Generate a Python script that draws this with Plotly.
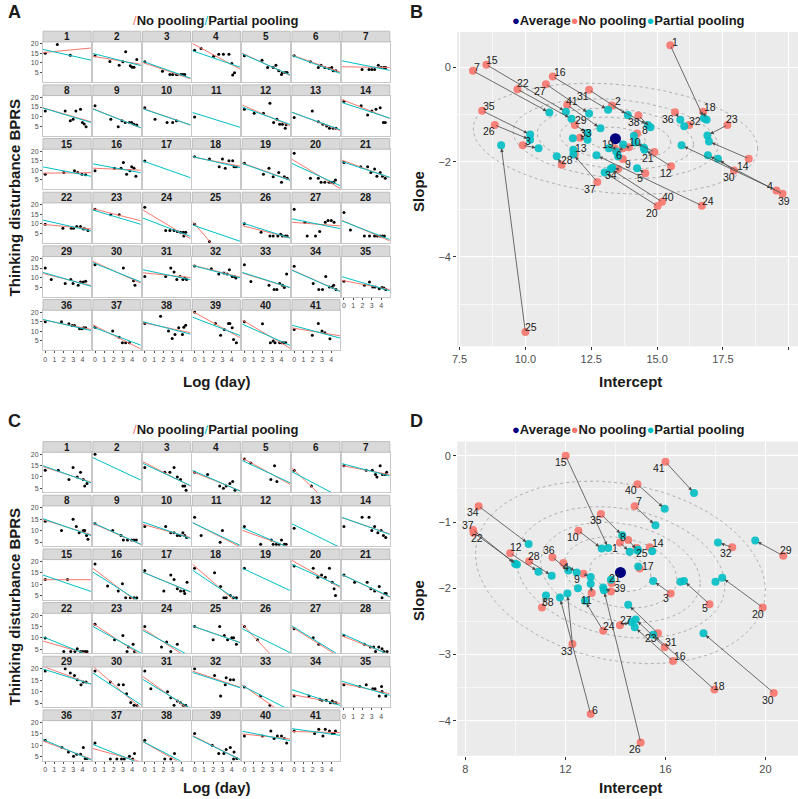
import numpy as np
import plotly.graph_objects as go

# ======================= DATA =======================
# Panel A: observed points per patient (log day, BPRS thinking disturbance)
A_points = [
    [(0,15),(1.3,19.6),(2.7,14)],
    [(0,13.7),(1.6,10.7),(2.6,8.8),(3.0,10.6),(3.3,15.8),(3.8,8.5),(4.0,7.8),(4.2,7.8),(4.5,11.8)],
    [(0,10.6),(1.9,5.7),(2.7,4),(3.0,4),(3.4,4),(3.5,4),(3.9,4),(4.1,4),(4.3,4)],
    [(0,16.6),(0.7,17.5),(2.05,13.5),(2.6,14.5),(3.1,14.5),(3.7,14.5),(4.0,9.7),(4.1,3.7),(4.3,4.9)],
    [(0,13.7),(1.9,11.4),(2.5,7.6),(3.1,7.6),(3.4,8.8),(3.7,6),(4.0,4),(4.1,5),(4.4,5),(4.6,5)],
    [(0,13.7),(1.75,10.6),(2.6,7.6),(2.9,8.8),(3.3,7.6),(3.75,7.1),(4.05,7.6),(4.2,6),(4.5,6)],
    [(1.95,6.6),(2.7,6.6),(3.0,6.6),(3.3,6.6),(3.7,8.8),(4.0,7.6),(4.3,7.6),(4.5,7.6)],
    [(0,12.9),(2.15,12.9),(2.7,7.9),(3.0,8.7),(3.3,12.9),(3.8,13.8),(4.0,7),(4.2,6.2),(4.4,4.8)],
    [(0,15.7),(1.7,8.7),(2.5,4.8),(2.9,7.9),(3.25,7),(3.7,7),(3.95,7),(4.2,6),(4.5,5.6)],
    [(0,14.6),(1.1,8.7),(2.4,7),(3.0,7),(3.4,7.9)],
    [(0,9.8)],
    [(0,13.8),(1.05,11.7),(2.05,11.7),(2.75,16.9),(3.15,7),(3.5,8.7),(3.8,6),(4.1,6),(4.4,4),(4.5,5.8)],
    [(0,9.6),(1.95,12.9),(2.6,7.3),(3.1,6),(3.5,5.1),(3.8,4),(4.2,4),(4.5,4)],
    [(0,18),(1.85,15.6),(2.55,10.8),(3.0,12.9),(3.45,13.8),(3.9,14.6),(4.25,7),(4.45,7)],
    [(0,7.9),(2.0,8.9),(3.15,9.8),(3.5,8.9),(3.95,7.9),(4.35,7.7)],
    [(0,9.8),(2.1,11),(2.8,11),(3.05,14),(3.4,7.9),(3.75,9.8),(3.95,11.9),(4.2,11),(4.4,6.9)],
    [(0,14.8)],
    [(0,17.1),(1.6,15.9),(2.65,11.9),(3.0,15.9),(3.3,11),(3.7,14.9),(4.1,14.9),(4.25,11.9),(4.5,11.9)],
    [(0,13.6),(2.05,7.9),(2.65,11),(3.1,6.7),(3.7,8.9),(4.0,3.8),(4.3,6.7),(4.6,5.8)],
    [(0,18.8),(1.75,5.8),(2.6,5.8),(2.9,3.8),(3.3,3.8),(3.75,3.8),(4.0,3.8),(4.25,3.8),(4.45,5)],
    [(0,14),(1.8,11.9),(2.55,11.9),(2.9,8.9),(3.3,10.7),(3.55,6.9),(3.9,8.9),(4.15,6.9),(4.45,5.8)],
    [(0,9.9),(1.9,7.8),(2.8,7.8),(3.05,7.8),(3.4,8.7),(3.8,8.7),(4.1,7.4),(4.25,7.5),(4.6,6.6)],
    [(0,17.7),(1.7,14.8),(2.6,14.8)],
    [(0,18.7),(2.25,6.6),(2.7,6.6),(3.15,6.6),(3.5,6.1),(3.85,5.7),(4.15,5.7),(4.2,3.8),(4.4,5.7)],
    [(0,9.9),(1.6,0.9)],
    [(0,10.1),(1.8,5.7),(2.75,3.8),(3.1,3.8),(3.6,3.8),(3.9,4.7),(4.1,3.8),(4.4,3.8),(4.6,3.8)],
    [(0,17.7),(1.15,10.9),(1.4,3.8),(2.3,3.8),(2.75,6.1),(3.35,10.9),(3.65,11.8),(4.0,11.8),(4.3,10.9)],
    [(0,15.9),(0.7,6.9),(2.2,3.8),(2.75,3.8),(3.3,3.8),(3.6,3.8),(3.9,3.8),(4.15,3.8),(4.35,3.8)],
    [(0,15),(0.65,9),(2.15,6.9),(2.75,9),(3.0,6.9),(3.55,6),(3.8,7.7),(4.1,7.7),(4.35,8.1)],
    [(0,16.7),(3.05,15),(4.15,8.4),(4.3,6)],
    [(0,10.6),(2.25,10.6),(2.8,15),(3.15,12.9),(3.45,9),(3.8,10.6),(4.1,9),(4.3,9.8),(4.5,9)],
    [(0,16),(1.8,14.6),(2.6,11.9),(3.15,12.4),(3.5,11.9),(3.75,14.1),(4.05,10.6),(4.3,10.6),(4.45,9.8)],
    [(0,16.7),(0.7,8),(2.65,6),(3.2,3.8),(3.5,3.8),(3.8,6.9),(4.1,6),(4.3,4.9),(4.55,11.9)],
    [(0,15.9),(2.05,6.9),(2.65,3.8),(3.05,3.8),(3.4,10.6),(3.8,5.1),(4.1,5.1),(4.25,6),(4.5,3.8)],
    [(0,8.1),(2.2,6),(2.75,7.7),(3.1,5.1),(3.35,5.1),(3.8,4.2),(4.1,4.9),(4.3,4.6),(4.5,3.8)],
    [(0,14.9),(1.75,14.9),(2.55,13.9),(2.9,13),(3.15,13),(3.7,11.3),(3.95,11.3),(4.15,11.8),(4.35,11.8)],
    [(0,12.1),(1.9,10.1),(2.6,6.9),(2.95,4),(3.3,4),(3.7,4)],
    [(0,14),(1.7,17.8),(2.55,10.1),(2.95,6.2),(3.25,8.3),(3.65,11.8),(4.05,8.3),(4.2,12.1),(4.4,13.2)],
    [(0,20),(2.25,14),(2.8,8),(3.2,10.9),(3.65,14),(3.8,14),(4.05,11.8),(4.2,5.7),(4.5,4)],
    [(0,14.9),(1.95,13.9),(2.8,4),(3.1,4.9),(3.3,4),(3.8,4),(4.05,4),(4.25,4),(4.45,4)],
    [(0,10.9),(1.95,8),(2.6,14),(3.0,10.1),(3.3,9.2),(3.85,6.1)],
]
# Panel A/B: per-patient intercept & slope (no pooling / partial pooling)
A_nopool_int = [15.50,13.29,9.90,19.53,14.55,13.70,8.01,14.24,13.70,13.93,None,15.53,11.88,18.48,8.52,11.04,None,16.75,13.39,15.02,14.90,9.70,17.67,16.70,10.00,8.84,10.78,11.38,11.88,17.92,12.42,16.22,12.07,13.52,8.36,15.68,12.73,14.29,19.76,15.19,11.59]
A_nopool_slope = [0.46,-0.81,-1.65,-2.60,-2.24,-1.71,-0.08,-1.40,-1.94,-1.69,None,-2.09,-1.84,-1.93,0.05,-0.20,None,-0.94,-1.71,-2.93,-1.79,-0.47,-1.22,-2.92,-5.58,-1.22,-0.36,-2.06,-1.22,-2.18,-0.48,-1.22,-1.49,-2.15,-0.92,-0.95,-2.42,-1.02,-2.67,-2.84,-0.80]
A_partial_int = [16.78,14.65,10.50,15.93,14.24,13.45,10.91,14.12,13.52,13.71,11.80,14.52,11.82,16.97,11.54,13.14,14.50,16.88,13.17,13.01,14.17,11.75,16.91,12.70,9.08,10.18,12.42,11.19,12.36,17.31,13.89,16.03,12.36,13.30,10.18,15.88,11.82,14.75,16.93,13.24,12.85]
A_partial_slope = [-1.08,-1.22,-1.71,-1.65,-2.13,-1.78,-0.96,-1.45,-1.88,-1.63,-1.50,-1.74,-1.74,-1.57,-0.94,-0.90,-1.70,-1.11,-1.71,-2.22,-1.59,-1.09,-1.44,-1.86,-1.65,-1.53,-0.98,-1.88,-1.39,-1.93,-1.01,-1.25,-1.53,-2.12,-1.42,-1.11,-1.84,-1.27,-1.86,-2.15,-1.29]
A_average = [13.42, -1.51]
A_ellipse = dict(a=5.4, b=1.15, shear=-0.21)

# Panel C: observed points per patient
C_points = [
    [(0,12.9),(1.4,12.9),(2.55,8.9),(3.0,14.1),(3.45,10),(3.8,12.1),(4.1,8.9),(4.25,6),(4.5,7.1)],
    [(0,19.9)],
    [(0,14.1),(2.15,12.1),(2.7,12.1),(3.15,14.1),(3.5,10),(3.85,8.9),(4.1,6),(4.3,6),(4.45,4.2)],
    [(0,12.1),(1.4,11.1),(2.7,6),(3.1,5.1),(3.4,6),(3.8,7.1),(4.1,8),(4.35,4.2)],
    [(0,17.9),(0.7,16.1),(2.85,8.9),(3.25,14.9),(3.5,8)],
    [(0,12.9),(1.85,6)],
    [(0,14.9),(2.4,12.9),(3.05,12.9),(3.4,11.1),(3.55,10),(3.9,14.9),(4.15,11.1),(4.45,11.1),(4.6,12.1)],
    [(0,14.1),(1.75,10),(3.0,15),(3.35,11.8),(3.65,9.1),(4.1,10),(4.25,10),(4.45,7.9),(4.6,6.2)],
    [(0,13),(1.9,10),(2.8,7.9),(3.05,5.9),(3.5,5.9),(3.95,5.9),(4.2,5.9),(4.45,5.9)],
    [(0,11.8),(2.25,11.8),(2.8,9.1),(3.15,9.1),(3.5,7.9),(3.8,7.9),(4.1,9.1),(4.3,7.9),(4.5,7)],
    [(0,15.9),(0.7,7.9),(2.75,4.9),(3.0,10)],
    [(0,11.8),(1.75,4),(2.9,5.9),(3.1,4),(3.45,4),(3.75,4),(4.0,5.9),(4.3,4),(4.5,4)],
    [(0,11)],
    [(0,11.8),(1.95,15.9),(2.7,15.9),(3.0,10),(3.3,11.8),(3.65,9.1),(4.0,10),(4.25,7.9),(4.5,7)],
    [(0,12.1),(2.4,12.1)],
    [(0,18.9),(1.35,9.2),(2.5,7),(2.95,10.2),(3.3,4.1),(3.8,4.1),(4.2,4.1),(4.5,4.1)],
    [(0,16),(2.05,7),(2.8,14.1),(3.15,12.1),(3.5,8),(3.85,7),(4.2,7),(4.3,6),(4.55,10.9)],
    [(0,17),(2.15,15),(2.8,9),(3.15,4.1),(3.4,4.1),(3.85,5.1),(4.2,4.1),(4.5,4.1)],
    [(0,17)],
    [(0,18),(2.05,17),(2.55,13.1),(2.95,14.1),(3.35,13.1),(3.8,17),(4.1,10.9),(4.3,8),(4.45,5.1)],
    [(0,14.1),(1.15,10.9),(2.5,10.9),(2.9,8),(3.3,7),(3.8,9),(4.1,4.1),(4.4,6),(4.55,6)],
    [(0,10),(2.0,4.1),(2.75,4.1),(3.2,4.1),(3.45,5.3),(3.8,4.1),(4.05,4.1),(4.3,4.1),(4.5,4.1)],
    [(0,16),(2.1,9.2),(3.0,11.1),(3.45,4.1),(3.6,6),(4.1,7.2),(4.25,4.1)],
    [(0,15),(1.8,6),(2.35,8.2),(2.8,4.1),(3.5,7.2)],
    [(0,15),(2.0,9.2),(2.7,15),(3.2,11.1),(3.55,9.2),(4.0,10.1),(4.2,10.1),(4.5,7.2)],
    [(0,15),(1.4,9.2)],
    [(0,14),(2.05,10.1),(2.65,7.2)],
    [(0,11.1),(2.2,7.2),(2.85,6),(3.2,6),(3.4,4.1),(3.75,6),(4.1,5.3),(4.3,4.1),(4.65,4.1)],
    [(0,19),(2.15,20),(2.7,18.1),(3.15,17.1),(3.45,15.2),(3.85,13),(4.1,14.2),(4.4,14.2)],
    [(0,19),(1.65,14.2),(2.55,13),(3.05,13),(3.4,9.1),(3.85,5.2),(4.2,4),(4.5,4)],
    [(0,19),(0.65,11.3),(2.45,9.9),(2.8,7.3),(3.15,4),(3.5,5.9),(3.85,5.1),(4.15,4),(4.4,4)],
    [(0,20),(2.15,17.1),(2.8,8.1),(3.3,13),(3.4,16.1),(3.85,15.2),(4.2,15.2)],
    [(0,12),(1.75,8.1),(2.75,4)],
    [(0,8.1),(1.6,8.1),(2.75,6.7),(3.0,6.2),(3.45,6.2),(3.9,5.1),(4.1,5.9),(4.3,5.1),(4.5,5.1)],
    [(0,13),(1.7,12.2),(2.4,13),(3.1,11.3),(3.35,11.3),(3.8,8.1),(4.05,12.2),(4.1,10),(4.5,8.1)],
    [(0,12.2),(1.8,9),(2.5,7.1),(3.05,5.2),(3.4,6.1),(3.8,6.1),(4.1,9),(4.3,4.2),(4.5,4.2)],
    [(0,11),(1.65,4),(2.35,4),(2.85,4),(3.15,4),(3.7,5.2),(4.05,4),(4.25,6.4)],
    [(0,12.2),(2.15,4),(2.8,4),(3.2,6.4)],
    [(0,15.1),(1.9,10),(2.6,6.4),(3.15,6.4),(3.4,8.1),(3.85,9),(4.2,4),(4.25,7.1),(4.55,4.2)],
    [(0,14.1),(1.95,14.1),(2.85,16.3),(3.2,13),(3.55,14.1),(4.0,14.1),(4.3,13),(4.55,11)],
    [(0,16.3),(2.2,15.1),(2.65,17),(3.1,14.1),(3.35,17),(3.8,16.3),(4.1,15.1),(4.3,15.1),(4.45,16.3)],
]
C_nopool_int = [14.18,None,16.21,11.92,17.76,13.01,14.77,14.51,12.72,12.52,13.05,9.79,None,15.37,12.01,16.30,14.97,17.96,None,19.89,13.84,8.33,15.70,13.51,14.85,15.01,14.18,10.55,20.71,20.33,15.97,18.67,12.28,8.53,13.42,11.48,8.31,11.06,13.82,14.88,16.00]
C_nopool_slope = [-1.31,None,-2.08,-1.62,-2.24,-3.90,-0.76,-1.27,-1.78,-1.13,-2.07,-1.47,None,-1.38,0.00,-3.10,-1.70,-3.53,None,-2.29,-1.92,-1.16,-2.68,-2.64,-1.39,-4.33,-2.56,-1.59,-1.51,-3.58,-2.89,-1.38,-2.84,-0.76,-0.88,-1.53,-1.12,-2.29,-2.05,-0.43,-0.09]
C_partial_int = [14.57,18.00,15.51,12.45,16.74,11.78,15.60,14.88,13.01,13.45,13.01,10.92,12.50,15.47,13.71,14.77,14.91,15.51,16.60,18.27,13.82,10.06,14.51,12.78,14.90,13.54,14.64,11.45,19.59,17.52,14.81,18.10,12.08,10.53,14.27,12.12,9.99,11.22,13.51,15.97,17.14]
C_partial_slope = [-1.45,-1.90,-1.89,-1.76,-1.89,-2.14,-1.05,-1.43,-1.83,-1.40,-1.93,-1.75,-2.00,-1.44,-1.39,-2.59,-1.67,-2.70,-1.90,-1.84,-1.87,-1.64,-2.25,-2.19,-1.42,-2.03,-2.51,-1.81,-1.28,-2.68,-2.47,-1.31,-2.08,-1.33,-1.20,-1.73,-1.63,-2.11,-1.99,-0.80,-0.56]
C_average = [14.20, -1.76]
C_ellipse = dict(a=5.8, b=1.35, shear=-0.28)

ellipse_levels = [0.21, 0.39, 0.55, 0.72, 1.0]

# ======================= STYLE =======================
W, H = 798, 799
FONT = 'Liberation Sans, Arial, sans-serif'
RED, CYAN, NAVY = '#F8766D', '#00BFC4', '#000080'
TICKC = '#4D4D4D'
PANEL_LINE = '#C8C8C8'
XR = [-0.235, 4.935]

# label offsets (px right, px down) for ggrepel-like labels
B_lab = {1:(5,-3),2:(6,-4),3:(5,-4),4:(-6,-4),5:(-5,5),6:(-4,7),7:(4,-4),8:(8,-3),9:(5,5),10:(6,-5),
         12:(-5,7),13:(6,-6),14:(-6,7),15:(6,-5),16:(7,-5),18:(7,-5),19:(-7,-4),20:(-6,7),21:(-6,6),
         22:(6,-6),23:(5,-6),24:(6,-5),25:(6,-5),26:(-6,6),27:(-6,7),28:(5,-5),29:(6,-5),30:(-5,6),
         31:(-6,6),32:(6,-4),33:(6,-5),34:(-7,6),35:(7,-5),36:(-7,7),37:(-7,7),38:(-4,7),39:(2,7),
         40:(6,-5),41:(5,-4)}
D_lab = {1:(-5,5),3:(-5,4),4:(3,4),5:(-4,4),6:(4,-4),7:(4,-5),8:(-5,-3),9:(-6,5),10:(-5,6),11:(-5,7),
         12:(6,-6),14:(8,-4),15:(-5,6),16:(7,-5),17:(8,-2),18:(5,-4),20:(-5,7),21:(4,-5),22:(3,5),
         23:(-7,5),24:(6,-5),25:(5,5),26:(-6,6),27:(6,-5),28:(5,-5),29:(3,-6),30:(-6,7),31:(6,-5),
         32:(-6,6),33:(-5,7),34:(-6,6),35:(-5,6),36:(-3,-7),37:(-5,-5),38:(6,-5),39:(9,-4),40:(-6,6),41:(-6,6)}

fig = go.Figure()
layout = dict(width=W, height=H, margin=dict(l=0, r=0, t=0, b=0),
              paper_bgcolor='white', plot_bgcolor='white', showlegend=False,
              font=dict(family=FONT, color='#1A1A1A'))
shapes, annos = [], []


def axnames(k):
    return (('xaxis' if k == 1 else f'xaxis{k}'), ('yaxis' if k == 1 else f'yaxis{k}'),
            ('x' if k == 1 else f'x{k}'), ('y' if k == 1 else f'y{k}'))


def add_facets(points, npi, nps, ppi, pps, top0, yrange, k0):
    xs_line = np.array(XR)
    for i in range(41):
        p = i + 1
        r, c = divmod(i, 7)
        k = k0 + i
        left = 38.3 + 50.1 * c
        right = left + 48.3
        st = top0 + 53.8 * r
        pt, pb = st + 10.7, st + 51.0
        xn, yn, xr, yr = axnames(k)
        showx = (r == 5) or (p == 35)
        showy = (c == 0)
        layout[xn] = dict(domain=[left / W, right / W], anchor=yr, range=XR, showgrid=False,
                          zeroline=False, showline=True, mirror=True, linecolor=PANEL_LINE, linewidth=1,
                          tickvals=[0, 1, 2, 3, 4], showticklabels=showx,
                          ticks='outside' if showx else '', ticklen=2, tickcolor=TICKC,
                          tickfont=dict(size=7, color=TICKC), fixedrange=True)
        layout[yn] = dict(domain=[1 - pb / H, 1 - pt / H], anchor=xr, range=yrange, showgrid=False,
                          zeroline=False, showline=True, mirror=True, linecolor=PANEL_LINE, linewidth=1,
                          tickvals=[5, 10, 15, 20], showticklabels=showy,
                          ticks='outside' if showy else '', ticklen=2, tickcolor=TICKC,
                          tickfont=dict(size=7, color=TICKC), fixedrange=True)
        shapes.append(dict(type='rect', xref='paper', yref='paper', x0=left / W, x1=right / W,
                           y0=1 - pt / H, y1=1 - st / H, fillcolor='#D9D9D9',
                           line=dict(color='#BDBDBD', width=1), layer='above'))
        annos.append(dict(xref='paper', yref='paper', x=(left + right) / 2 / W, y=1 - (st + 5.6) / H,
                          text=f'<b>{p}</b>', showarrow=False, font=dict(size=10, color='#1A1A1A'),
                          xanchor='center', yanchor='middle'))
        pts = points[i]
        fig.add_trace(go.Scatter(x=[q[0] for q in pts], y=[q[1] for q in pts], mode='markers',
                                 marker=dict(size=3, color='black'), xaxis=xr, yaxis=yr,
                                 hoverinfo='skip'))
        if npi[i] is not None:
            fig.add_trace(go.Scatter(x=xs_line, y=npi[i] + nps[i] * xs_line, mode='lines',
                                     line=dict(color=RED, width=1), xaxis=xr, yaxis=yr, hoverinfo='skip'))
        fig.add_trace(go.Scatter(x=xs_line, y=ppi[i] + pps[i] * xs_line, mode='lines',
                                 line=dict(color=CYAN, width=1), xaxis=xr, yaxis=yr, hoverinfo='skip'))


def add_scatter_panel(k, top, bottom, xrange, yrange, xt, xfmt, xminor, yt, yminor,
                      npi, nps, ppi, pps, avg, ell, labs):
    left, right = 455, 798
    xn, yn, xr, yr = axnames(k)
    layout[xn] = dict(domain=[left / W, right / W], anchor=yr, range=xrange, tickvals=xt,
                      ticktext=[format(v, xfmt) for v in xt], showgrid=True, gridcolor='white',
                      gridwidth=1.1, zeroline=False, showline=False, ticks='outside', ticklen=3,
                      tickcolor='#333333', tickfont=dict(size=11, color=TICKC),
                      minor=dict(tickvals=xminor, showgrid=True, gridcolor='#F7F7F7', gridwidth=0.5),
                      fixedrange=True)
    layout[yn] = dict(domain=[1 - bottom / H, 1 - top / H], anchor=xr, range=yrange, tickvals=yt,
                      showgrid=True, gridcolor='white', gridwidth=1.1, zeroline=False, showline=False,
                      ticks='outside', ticklen=3, tickcolor='#333333', tickfont=dict(size=11, color=TICKC),
                      minor=dict(tickvals=yminor, showgrid=True, gridcolor='#F7F7F7', gridwidth=0.5),
                      fixedrange=True)
    shapes.append(dict(type='rect', xref='paper', yref='paper', x0=left / W, x1=right / W,
                       y0=1 - bottom / H, y1=1 - top / H, fillcolor='#EBEBEB', line=dict(width=0),
                       layer='below'))
    t = np.linspace(0, 2 * np.pi, 240)
    for lev in ellipse_levels:
        ex = avg[0] + lev * ell['a'] * np.cos(t)
        ey = avg[1] + lev * (ell['shear'] * np.cos(t) + ell['b'] * np.sin(t))
        fig.add_trace(go.Scatter(x=ex, y=ey, mode='lines', line=dict(color='#A0A0A0', width=0.8, dash='dot'),
                                 xaxis=xr, yaxis=yr, hoverinfo='skip'))
    ids = [i for i in range(41) if npi[i] is not None]
    fig.add_trace(go.Scatter(x=[npi[i] for i in ids], y=[nps[i] for i in ids], mode='markers',
                             marker=dict(size=8, color=RED, opacity=0.9), xaxis=xr, yaxis=yr))
    fig.add_trace(go.Scatter(x=ppi, y=pps, mode='markers',
                             marker=dict(size=8, color=CYAN, opacity=0.9), xaxis=xr, yaxis=yr))
    fig.add_trace(go.Scatter(x=[avg[0]], y=[avg[1]], mode='markers',
                             marker=dict(size=11, color=NAVY), xaxis=xr, yaxis=yr))
    for i in ids:
        annos.append(dict(x=ppi[i], y=pps[i], ax=npi[i], ay=nps[i], xref=xr, yref=yr, axref=xr, ayref=yr,
                          text='', showarrow=True, arrowhead=2, arrowsize=0.9, arrowwidth=0.8,
                          arrowcolor='#4A4A4A', standoff=3))
        dx, dy = labs.get(i + 1, (6, -5))
        annos.append(dict(x=npi[i], y=nps[i], xref=xr, yref=yr, text=str(i + 1), showarrow=False,
                          xshift=dx, yshift=-dy, font=dict(size=10.5, color='#1A1A1A')))


add_facets(A_points, A_nopool_int, A_nopool_slope, A_partial_int, A_partial_slope, 29.3, [0.05, 20.95], 1)
add_facets(C_points, C_nopool_int, C_nopool_slope, C_partial_int, C_partial_slope, 440.7, [3.2, 20.8], 42)
add_scatter_panel(83, 30, 345, [7.41, 20.35], [-5.88, 0.74], [7.5, 10, 12.5, 15, 17.5, 20], '.1f',
                  [8.75, 11.25, 13.75, 16.25, 18.75], [0, -2, -4], [-1, -3, -5],
                  A_nopool_int, A_nopool_slope, A_partial_int, A_partial_slope, A_average, A_ellipse, B_lab)
add_scatter_panel(84, 440.7, 755.7, [7.67, 21.3], [-4.53, 0.215], [8, 12, 16, 20], '.0f',
                  [10, 14, 18], [0, -1, -2, -3, -4], [-0.5, -1.5, -2.5, -3.5],
                  C_nopool_int, C_nopool_slope, C_partial_int, C_partial_slope, C_average, C_ellipse, D_lab)


def text(x, y, s, size, bold=True, angle=0, xanchor='center', color='#1A1A1A'):
    annos.append(dict(xref='paper', yref='paper', x=x / W, y=1 - y / H, text=(f'<b>{s}</b>' if bold else s),
                      showarrow=False, textangle=angle, xanchor=xanchor, yanchor='middle',
                      font=dict(size=size, color=color)))


for off, letter_ac, letter_bd, xt_y in [(0, 'A', 'B', 380), (410, 'C', 'D', 787)]:
    text(10, 10 + off, letter_ac, 18)
    text(414, 10 + off, letter_bd, 18)
    text(212, 18.5 + off, "<span style='color:#F8766D;font-weight:normal'>/</span>No pooling"
                          "<span style='color:#00BFC4;font-weight:normal'>/</span>Partial pooling", 13)
    text(627, 18.5 + off, "<span style='color:#000080'>●</span>Average<span style='color:#F8766D'>●</span>"
                          "No pooling<span style='color:#00BFC4'>●</span>Partial pooling", 13)
    text(10, 196 + off, 'Thinking disturbance BPRS', 15, angle=-90)
    text(213, xt_y, 'Log (day)', 15)
    text(629, xt_y, 'Intercept', 15)
    text(416, 190 + off, 'Slope', 15, angle=-90)

layout['shapes'] = shapes
layout['annotations'] = annos
fig.update_layout(**layout)
fig.write_html('out.html', config={'displayModeBar': False},
               post_script="document.body.style.margin='0';document.body.style.padding='0';"
                           "document.documentElement.style.overflow='hidden';")
